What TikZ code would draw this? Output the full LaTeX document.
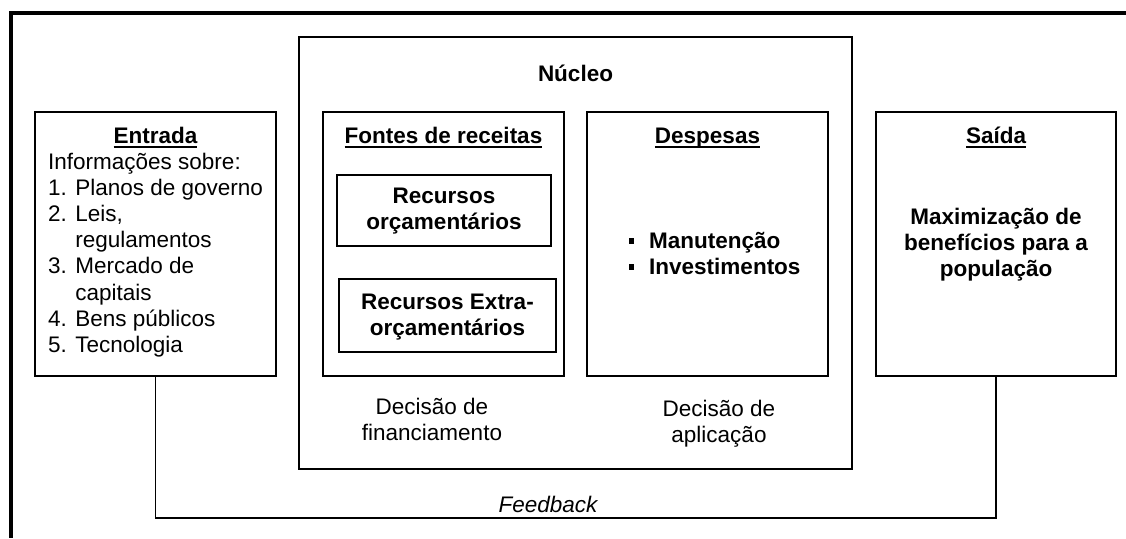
\documentclass[tikz,border=0pt]{standalone}
\usepackage{fontspec}
\setmainfont{Liberation Sans}
\newsavebox\ulbox
\newcommand{\ulx}[1]{\sbox\ulbox{#1}\rlap{\rule[-4.8pt]{\wd\ulbox}{1.8pt}}\usebox\ulbox}
\begin{document}
\begin{tikzpicture}[x=1pt,y=-1pt,
  box/.style={draw,line width=1.6pt,inner sep=0pt},
  nucbox/.style={draw,line width=1.3pt,inner sep=0pt},
  txt/.style={inner sep=0pt,anchor=base,font=\fontsize{22.5}{26.2}\selectfont},
  btxt/.style={txt,font=\fontsize{22.5}{26.2}\selectfont\bfseries},
  frame/.style={line width=3.8pt},
  fb/.style={line width=1.6pt}]
\useasboundingbox (0,0) rectangle (1126,538);
% outer frame (cropped)
\draw[frame] (1126,13) -- (11,13) -- (11,538);
% boxes
\node[nucbox,minimum width=553pt,minimum height=432pt] (nucleo) at (575.5,253) {};
\node[box,minimum width=241pt,minimum height=264pt] (entrada) at (155.5,244) {};
\node[box,minimum width=241pt,minimum height=264pt] (fontes) at (443.5,244) {};
\node[box,minimum width=241pt,minimum height=264pt] (despesas) at (707.5,244) {};
\node[box,minimum width=240pt,minimum height=264pt] (saida) at (996,244) {};
\node[box,minimum width=214pt,minimum height=71pt] (rorc) at (444,210.5) {};
\node[box,minimum width=217pt,minimum height=73pt] (rextra) at (447.5,315.5) {};
% texts
\node[btxt] (tnucleo) at (575.5,81) {Núcleo};
\node[btxt] (tentrada) at (155.5,143) {\ulx{Entrada}};
\node[btxt] (tfontes) at (443.5,143) {\ulx{Fontes de receitas}};
\node[btxt] (tdespesas) at (707.5,143) {\ulx{Despesas}};
\node[btxt] (tsaida) at (996,143) {\ulx{Saída}};
\node[txt,anchor=base west] (tlist) at (48,169) {\begin{tabular}[t]{@{}l@{}}
Informações sobre:\\
1. Planos de governo\\
2. Leis,\\
\phantom{2. }regulamentos\\
3. Mercado de\\
\phantom{3. }capitais\\
4. Bens públicos\\
5. Tecnologia
\end{tabular}};
\node[btxt] (trorc) at (444,203) {\begin{tabular}[t]{@{}c@{}}Recursos\\orçamentários\end{tabular}};
\node[btxt] (trextra) at (447.5,309) {\begin{tabular}[t]{@{}c@{}}Recursos Extra-\\orçamentários\end{tabular}};
\node[btxt,anchor=base west] (tman) at (649,248) {Manutenção};
\node[btxt,anchor=base west] (tinv) at (649,274) {Investimentos};
\node[fill=black,inner sep=0pt,minimum size=5.5pt] (b1) at (631.5,241) {};
\node[fill=black,inner sep=0pt,minimum size=5.5pt] (b2) at (631.5,267) {};
\node[btxt] (tsaidatxt) at (996,224) {\begin{tabular}[t]{@{}c@{}}Maximização de\\benefícios para a\\população\end{tabular}};
\node[txt] (tfin) at (432,414) {\begin{tabular}[t]{@{}c@{}}Decisão de\\financiamento\end{tabular}};
\node[txt] (tapl) at (719,416) {\begin{tabular}[t]{@{}c@{}}Decisão de\\aplicação\end{tabular}};
\node[txt,font=\fontsize{22.5}{26.2}\selectfont\itshape] (tfb) at (548,512) {Feedback};
% feedback loop
\draw[fb] (entrada.south) -- ++(0,141) -| (saida.south);
\end{tikzpicture}
\end{document}
